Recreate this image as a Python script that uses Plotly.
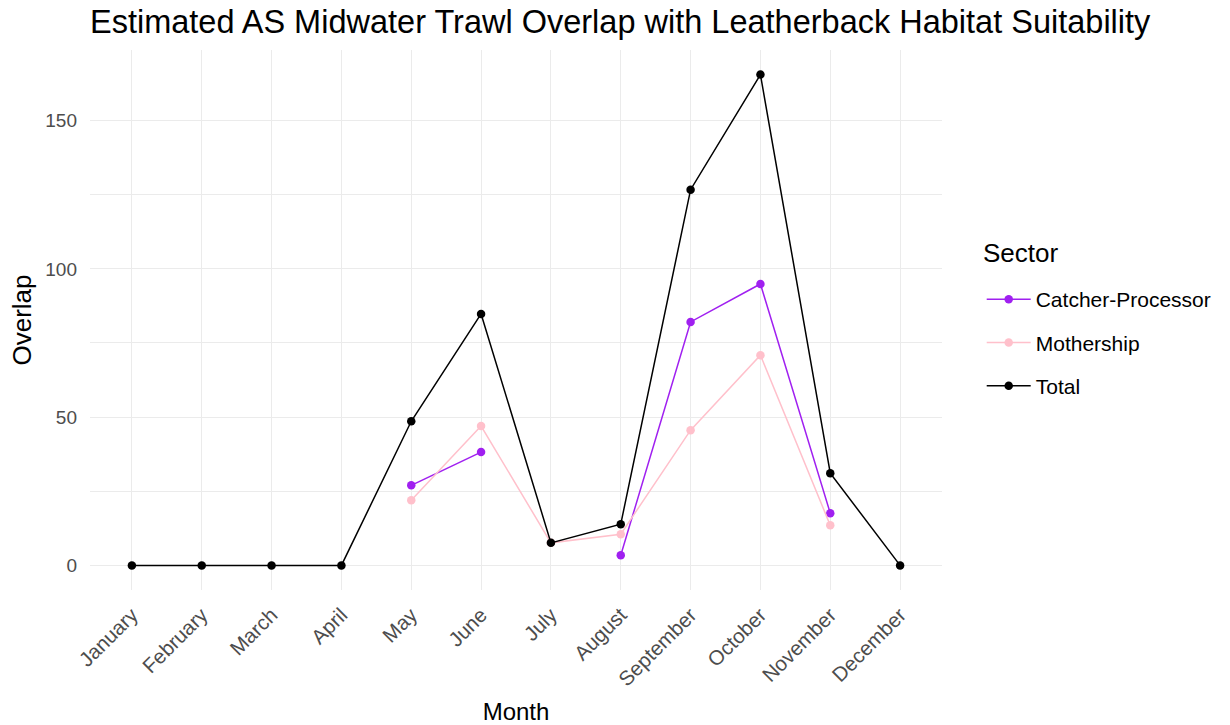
import plotly.graph_objects as go

months = ["January", "February", "March", "April", "May", "June", "July",
          "August", "September", "October", "November", "December"]
catcher_processor = [None, None, None, None, 27.0, 38.2, None, 3.4, 82.1, 94.9, 17.6, None]
mothership = [None, None, None, None, 22.0, 47.0, 7.6, 10.5, 45.6, 70.9, 13.5, None]
total = [0, 0, 0, 0, 48.6, 84.8, 7.6, 13.9, 126.7, 165.5, 31.1, 0]

series = [
    ("Catcher-Processor", catcher_processor, "#A020F0"),
    ("Mothership", mothership, "#FFC0CB"),
    ("Total", total, "#000000"),
]

FONT = "Liberation Sans, Arial, sans-serif"
W, H = 1230, 725
fig = go.Figure()
for name, vals, col in series:
    fig.add_trace(go.Scatter(
        x=months, y=vals, name=name, mode="lines+markers",
        line=dict(color=col, width=1.5),
        marker=dict(color=col, size=8.5, symbol="circle"),
        legendgroup=name,
    ))

fig.update_layout(
    width=W, height=H,
    margin=dict(l=90, r=288, t=50, b=135, autoexpand=False),
    paper_bgcolor="white", plot_bgcolor="white",
    font=dict(family=FONT, color="#000000"),
    title=dict(text="Estimated AS Midwater Trawl Overlap with Leatherback Habitat Suitability",
               x=0, xref="paper", xanchor="left", y=1 - 22 / H, yref="container",
               yanchor="middle", font=dict(size=32.5, color="#000000", family=FONT)),
    showlegend=True,
    legend=dict(
        font=dict(size=21, color="#000000", family=FONT),
        x=1.0466, xanchor="left", y=(590 - 279) / 540, yanchor="top",
        tracegroupgap=13, itemwidth=44,
        bgcolor="rgba(0,0,0,0)",
    ),
    annotations=[dict(
        text="Sector", xref="paper", yref="paper", x=(981 - 90) / 852,
        y=(590 - 253) / 540, xanchor="left", yanchor="middle", showarrow=False,
        font=dict(size=26, color="#000000", family=FONT),
    )],
    xaxis=dict(
        type="category", categoryorder="array", categoryarray=months,
        range=[-0.6, 11.6], showgrid=True, gridcolor="#EBEBEB", gridwidth=1.1,
        zeroline=False, showline=False, ticks="", tickangle=-45,
        ticklabelstandoff=8, automargin=False,
        tickfont=dict(size=20.5, color="#4D4D4D", family=FONT),
        title=dict(text="Month", font=dict(size=24, color="#000000", family=FONT), standoff=28),
    ),
    yaxis=dict(
        range=[-8.3, 173.8], tickvals=[0, 50, 100, 150], showgrid=True,
        gridcolor="#EBEBEB", gridwidth=1.1, zeroline=False, showline=False, ticks="",
        ticklabelstandoff=12, automargin=False,
        tickfont=dict(size=19, color="#4D4D4D", family=FONT),
        minor=dict(tickvals=[25, 75, 125], showgrid=True, gridcolor="#EBEBEB", gridwidth=0.8),
        title=dict(text="Overlap", font=dict(size=26, color="#000000", family=FONT), standoff=6),
    ),
)

fig.write_html("out.html", config={"displayModeBar": False},
               post_script="document.body.style.margin='0';")
